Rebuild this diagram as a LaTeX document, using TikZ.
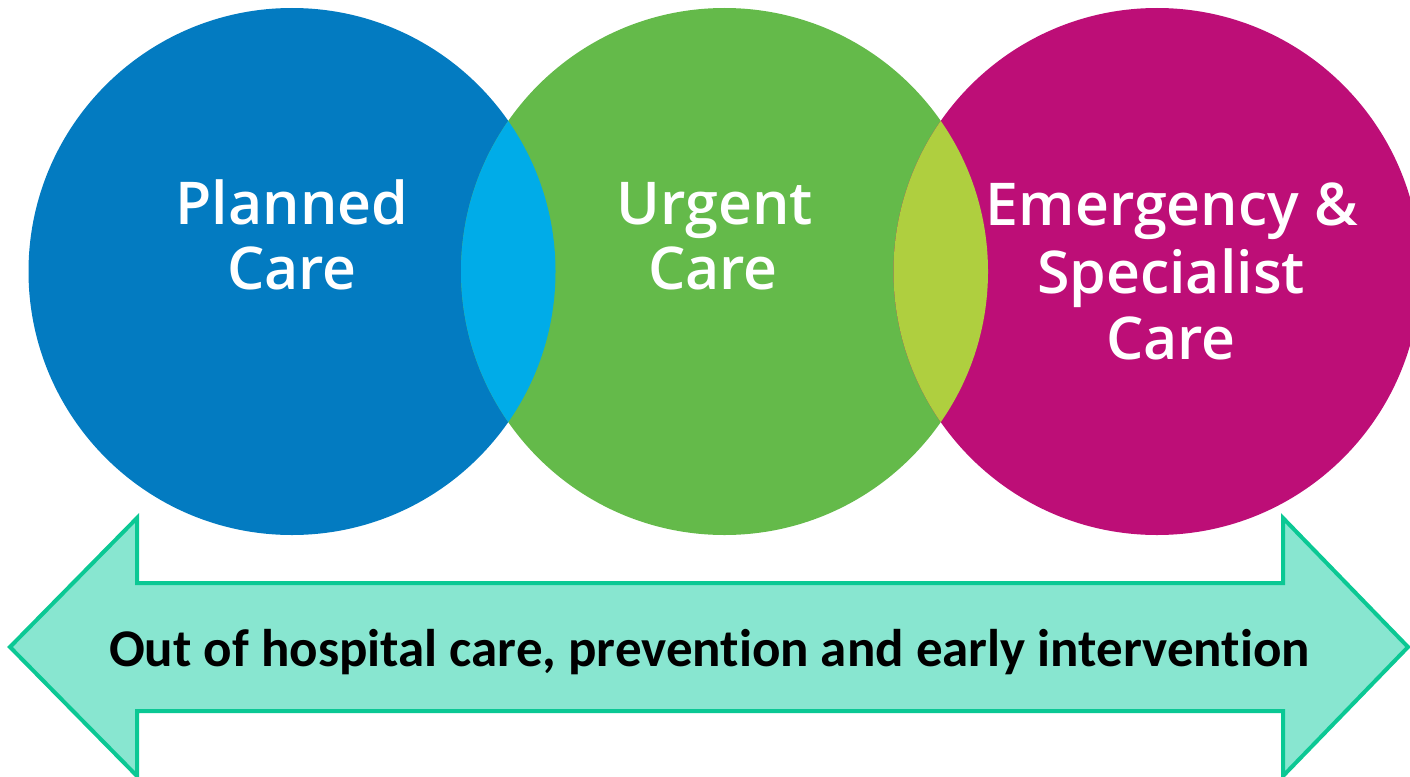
\documentclass[tikz,border=0pt]{standalone}
\usepackage{fontspec}
\setmainfont{Carlito}[Ligatures={NoCommon}]
\IfFontExistsTF{Open Sans SemiBold}{\newfontfamily\circfont{Open Sans SemiBold}}{%
  \IfFontExistsTF{Open Sans Semibold}{\newfontfamily\circfont{Open Sans Semibold}}{%
    \newfontfamily\circfont{Open Sans}[UprightFeatures={FakeBold=1.2}]}}
\definecolor{blueC}{HTML}{037BC1}
\definecolor{lightblueC}{HTML}{00ACE8}
\definecolor{greenC}{HTML}{64BA4A}
\definecolor{ygreenC}{HTML}{AFCF3F}
\definecolor{magentaC}{HTML}{BD0E77}
\definecolor{arrowFill}{HTML}{88E6D0}
\definecolor{arrowEdge}{HTML}{0BC894}
\begin{document}
\begin{tikzpicture}[x=1pt,y=-1pt,
  circ/.style={circle,minimum size=527pt,inner sep=0pt,outer sep=0pt,draw=none},
  lbl/.style={text=white,font=\circfont\fontsize{59}{65}\selectfont,anchor=base,inner sep=0pt},
  bigarrow/.style={fill=arrowFill,draw=arrowEdge,line width=4pt,line join=miter},
  bottomlbl/.style={font=\fontsize{53}{60}\selectfont\bfseries,anchor=base,inner sep=0pt}]
\useasboundingbox (0,0) rectangle (1410,776);
% circles
\node[circ,fill=blueC] (planned) at (292,271.5) {};
\node[circ,fill=greenC] (urgent) at (724.5,271.5) {};
\node[circ,fill=magentaC] (emerg) at (1157,271.5) {};
% overlaps
\begin{scope}
  \clip (planned.center) circle[radius=263.5pt];
  \fill[lightblueC] (urgent.center) circle[radius=263.5pt];
\end{scope}
\begin{scope}
  \clip (urgent.center) circle[radius=263.5pt];
  \fill[ygreenC] (emerg.center) circle[radius=263.5pt];
\end{scope}
% circle labels
\node[lbl] (plannedA) at (292,224) {Planned};
\node[lbl] (plannedB) at (292,289) {Care};
\node[lbl] (urgentA) at (715,224) {Urgent};
\node[lbl] (urgentB) at (713,289) {Care};
\node[lbl] (emergA) at (1172,225) {Emergency \&};
\node[lbl] (emergB) at (1171,293) {Specialist};
\node[lbl] (emergC) at (1171,359) {Care};
% double arrow
\coordinate (tipL) at (10,647);
\coordinate (hLt) at (137,518);
\coordinate (sLt) at (137,583);
\coordinate (sRt) at (1283,583);
\coordinate (hRt) at (1283,518);
\coordinate (tipR) at (1408,647);
\coordinate (hRb) at (1283,776);
\coordinate (sRb) at (1283,711);
\coordinate (sLb) at (137,711);
\coordinate (hLb) at (137,776);
\filldraw[bigarrow] (tipL) -- (hLt) -- (sLt) -- (sRt) -- (hRt) -- (tipR) -- (hRb) -- (sRb) -- (sLb) -- (hLb) -- cycle;
\node[bottomlbl] (bottomtxt) at (709.5,666) {Out of hospital care, prevention and early intervention};
\end{tikzpicture}
\end{document}
